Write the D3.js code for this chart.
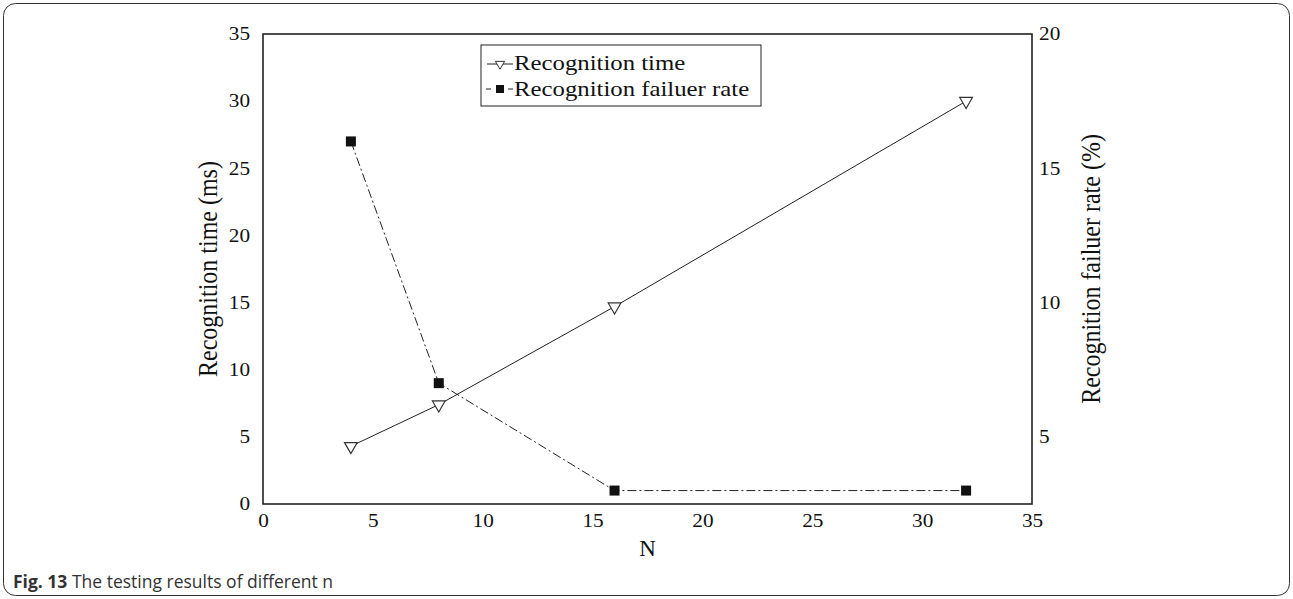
<!DOCTYPE html>
<html>
<head>
<meta charset="utf-8">
<script src="https://cdn.jsdelivr.net/npm/d3@7"></script>
<style>
  body { margin: 0; background: #fff; }
  svg text { font-family: "Liberation Serif", "Times New Roman", serif; fill: #111; }
  .caption { font-family: "Open Sans", "Noto Sans", sans-serif; fill: #333; }
</style>
</head>
<body>
<svg id="chart"></svg>
<script>
const nValues = [4, 8, 16, 32];
const recognitionTime = [4.3, 7.4, 14.7, 30];
const failureRate = [16, 7, 3, 3];
const xTicks = [0, 5, 10, 15, 20, 25, 30, 35];
const leftTicks = [0, 5, 10, 15, 20, 25, 30, 35];
const rightTicks = [5, 10, 15, 20];

const W = 1293, H = 599;
const plot = { left: 263, right: 1032, top: 34, bottom: 504 };
const stretch = 1.18; // the original figure text is a little wider than normal

const svg = d3.select("#chart").attr("width", W).attr("height", H);

// rounded frame around the figure
svg.append("rect")
    .attr("x", 3.5).attr("y", 3.5)
    .attr("width", W - 7).attr("height", H - 7)
    .attr("rx", 12)
    .attr("fill", "none")
    .attr("stroke", "#333")
    .attr("stroke-width", 1);

const x = d3.scaleLinear().domain([0, 35]).range([plot.left, plot.right]);
const yL = d3.scaleLinear().domain([0, 35]).range([plot.bottom, plot.top]);
const yR = d3.scaleLinear().domain([2.5, 20]).range([plot.bottom, plot.top]);

// plot frame
svg.append("rect")
    .attr("x", plot.left).attr("y", plot.top)
    .attr("width", plot.right - plot.left).attr("height", plot.bottom - plot.top)
    .attr("fill", "none")
    .attr("stroke", "#222")
    .attr("stroke-width", 1.6);

// axes (labels only, no tick marks)
const xAxis = svg.append("g")
    .attr("transform", `translate(0,${plot.bottom})`)
    .call(d3.axisBottom(x).tickValues(xTicks).tickSize(0).tickPadding(10));
const yAxisL = svg.append("g")
    .attr("transform", `translate(${plot.left},0)`)
    .call(d3.axisLeft(yL).tickValues(leftTicks).tickSize(0).tickPadding(11));
const yAxisR = svg.append("g")
    .attr("transform", `translate(${plot.right},0)`)
    .call(d3.axisRight(yR).tickValues(rightTicks).tickSize(0).tickPadding(6));

[xAxis, yAxisL, yAxisR].forEach(g => {
    g.select(".domain").remove();
    g.selectAll("text")
        .style("font-family", "'Liberation Serif', serif")
        .style("font-size", "18px")
        .attr("fill", "#111")
        .attr("transform", `scale(${stretch},1)`);
});

// axis titles
svg.append("text")
    .attr("transform", `translate(${(plot.left + plot.right) / 2},556)`)
    .attr("text-anchor", "middle")
    .style("font-size", "23px")
    .text("N");

svg.append("text")
    .attr("transform", `translate(217,${(plot.top + plot.bottom) / 2}) scale(${stretch},1) rotate(-90)`)
    .attr("text-anchor", "middle")
    .style("font-size", "24px")
    .text("Recognition time (ms)");

svg.append("text")
    .attr("transform", `translate(1100,${(plot.top + plot.bottom) / 2}) scale(${stretch},1) rotate(-90)`)
    .attr("text-anchor", "middle")
    .style("font-size", "24px")
    .text("Recognition failuer rate (%)");

// series
const timeData = nValues.map((n, i) => ({ n: n, v: recognitionTime[i] }));
const rateData = nValues.map((n, i) => ({ n: n, v: failureRate[i] }));

svg.append("path")
    .datum(rateData)
    .attr("fill", "none")
    .attr("stroke", "#222")
    .attr("stroke-width", 1)
    .attr("stroke-dasharray", "9,3,2,3")
    .attr("d", d3.line().x(d => x(d.n)).y(d => yR(d.v)));

svg.append("path")
    .datum(timeData)
    .attr("fill", "none")
    .attr("stroke", "#222")
    .attr("stroke-width", 1)
    .attr("d", d3.line().x(d => x(d.n)).y(d => yL(d.v)));

const tri = d3.symbol().type(d3.symbolTriangle).size(70);
svg.selectAll(".tri")
    .data(timeData)
    .enter().append("path")
    .attr("class", "tri")
    .attr("d", tri)
    .attr("transform", d => `translate(${x(d.n)},${yL(d.v)}) rotate(180)`)
    .attr("fill", "#fff")
    .attr("stroke", "#333")
    .attr("stroke-width", 1.2);

svg.selectAll(".sq")
    .data(rateData)
    .enter().append("rect")
    .attr("class", "sq")
    .attr("x", d => x(d.n) - 5)
    .attr("y", d => yR(d.v) - 5)
    .attr("width", 10).attr("height", 10)
    .attr("fill", "#111");

// legend
const legend = svg.append("g").attr("transform", "translate(481,45)");
legend.append("rect")
    .attr("width", 280).attr("height", 61)
    .attr("fill", "#fff")
    .attr("stroke", "#222")
    .attr("stroke-width", 1);

legend.append("line")
    .attr("x1", 6).attr("x2", 32).attr("y1", 19).attr("y2", 19)
    .attr("stroke", "#222");
legend.append("path")
    .attr("d", d3.symbol().type(d3.symbolTriangle).size(36))
    .attr("transform", "translate(19,19) rotate(180)")
    .attr("fill", "#fff")
    .attr("stroke", "#333");
legend.append("text")
    .attr("transform", `translate(33,25) scale(${stretch},1)`)
    .style("font-size", "21px")
    .text("Recognition time");

legend.append("line")
    .attr("x1", 5).attr("x2", 32).attr("y1", 44).attr("y2", 44)
    .attr("stroke", "#222")
    .attr("stroke-dasharray", "5,6");
legend.append("rect")
    .attr("x", 15).attr("y", 40).attr("width", 8).attr("height", 8)
    .attr("fill", "#111");
legend.append("text")
    .attr("transform", `translate(33,51) scale(${stretch},1)`)
    .style("font-size", "21px")
    .text("Recognition failuer rate");

// caption
const cap = svg.append("text")
    .attr("class", "caption")
    .attr("x", 13).attr("y", 588)
    .style("font-size", "17.5px");
cap.append("tspan").style("font-weight", "bold").text("Fig. 13");
cap.append("tspan").text(" The testing results of different n");
</script>
</body>
</html>
